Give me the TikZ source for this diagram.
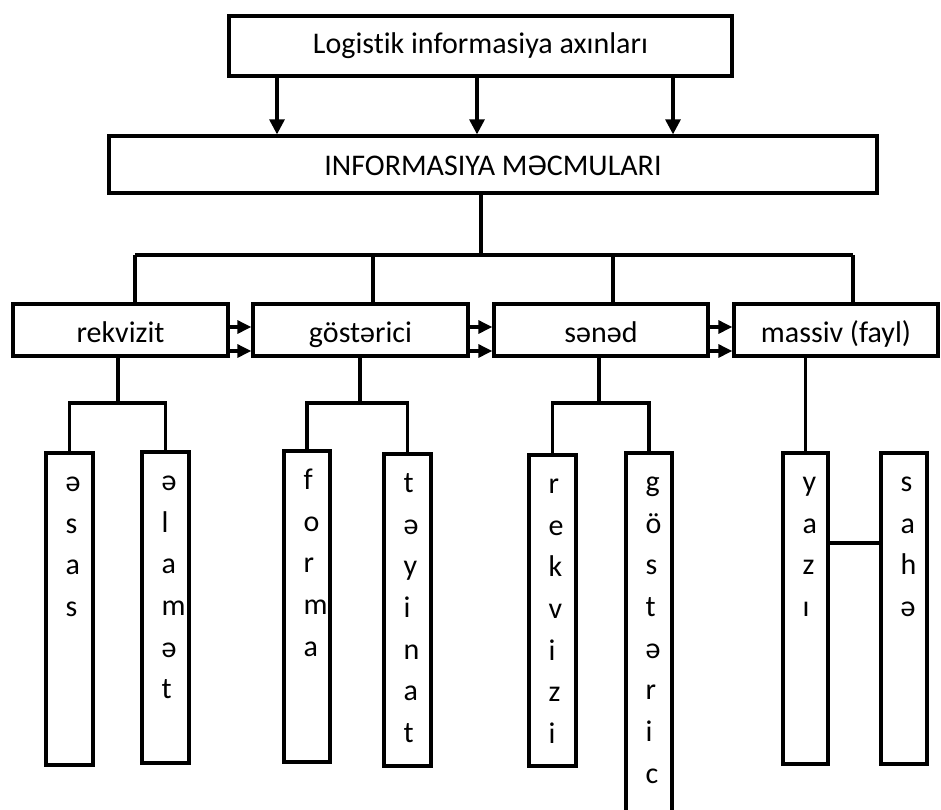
\documentclass[tikz,border=0pt]{standalone}
\usepackage{fontspec}
\setmainfont{Carlito}[Ligatures=NoCommon]
\usetikzlibrary{arrows.meta}

% one letter per line, going down inside a tall box
\newcommand\vword[2]{%
  \foreach \ch [count=\k from 0] in {#2}
    \node[letter] at ([xshift=21pt,yshift=-40pt-41.7pt*\k]#1.north west) {\ch};}

\begin{document}
\begin{tikzpicture}[x=1pt,y=-1pt,
  box/.style={draw, line width=3.3pt, inner sep=0pt, fill=white,
              font=\fontsize{30}{36}\selectfont},
  rowbox/.style={box, minimum height=52pt, text height=26pt, text depth=2pt},
  tallbox/.style={draw, line width=3.3pt, inner sep=0pt, fill=white},
  link/.style={line width=3.1pt},
  down/.style={link, -{Triangle[length=15pt,width=15pt]}},
  side/.style={link, -{Triangle[length=14pt,width=13pt]}},
  letter/.style={anchor=base west, inner sep=0pt, font=\fontsize{30}{36}\selectfont}]
\useasboundingbox (0,0) rectangle (941,809);
\clip (0,0) rectangle (941,809);

% upper levels
\node[box, minimum width=503pt, minimum height=60pt, text height=17pt, text depth=2pt]
  (flows) at (480.5,46) {Logistik informasiya axınları};
\node[box, minimum width=768pt, minimum height=57pt, text height=23pt, text depth=2pt]
  (info) at (493,164.5) {INFORMASIYA MƏCMULARI};

% the four kinds of information sets
\node[rowbox, minimum width=215pt] (rek) at (120.5,330) {rekvizit};
\node[rowbox, minimum width=215pt] (gos) at (360.5,330) {göstərici};
\node[rowbox, minimum width=214pt] (sen) at (601,330)   {sənəd};
\node[rowbox, minimum width=204pt] (mas) at (836,330)   {massiv (fayl)};

% their components
\node[tallbox, minimum width=47pt, minimum height=312pt] (asas)     at (69.5,609)   {};
\node[tallbox, minimum width=47pt, minimum height=311pt] (alamet)   at (165.5,607.5) {};
\node[tallbox, minimum width=46pt, minimum height=311pt] (forma)    at (307,606.5)  {};
\node[tallbox, minimum width=47pt, minimum height=312pt] (teyinat)  at (407.5,610)  {};
\node[tallbox, minimum width=47pt, minimum height=311pt] (rekvizi)  at (552.5,610.5) {};
\node[tallbox, minimum width=46pt, minimum height=377pt] (gosteric) at (649,641.5)  {};
\node[tallbox, minimum width=45pt, minimum height=311pt] (yazi)     at (805.5,608.5) {};
\node[tallbox, minimum width=46pt, minimum height=311pt] (sahe)     at (904,608.5)  {};

\vword{asas}{ə,s,a,s}
\vword{alamet}{ə,l,a,m,ə,t}
\vword{forma}{f,o,r,m,a}
\vword{teyinat}{t,ə,y,i,n,a,t}
\vword{rekvizi}{r,e,k,v,i,z,i}
\vword{gosteric}{g,ö,s,t,ə,r,i,c}
\vword{yazi}{y,a,z,ı}
\vword{sahe}{s,a,h,ə}

% flows into the information sets
\foreach \x in {277,477,673} {
  \coordinate (ax) at (\x,0);
  \draw[down] (flows.south -| ax) -- (info.north -| ax);
}

% branching to the four kinds
\coordinate (hub) at (481,255);
\coordinate (d1) at (135,255);
\coordinate (d2) at (373,255);
\coordinate (d3) at (613,255);
\coordinate (d4) at (853,255);
\draw[link] (info.south -| hub) -- (hub);
\draw[link] (d1) -- (d4);
\foreach \d/\n in {d1/rek,d2/gos,d3/sen,d4/mas}
  \draw[link] (\d) -- (\n.north -| \d);

% paired arrows between neighbouring kinds
\coordinate (s1) at (0,327);
\coordinate (s2) at (0,351);
\foreach \a/\b in {rek/gos,gos/sen,sen/mas} {
  \draw[side] (\a.east |- s1) -- (\b.west |- s1);
  \draw[side] (\a.east |- s2) -- (\b.west |- s2);
}

% branching to the components
\coordinate (j1) at (118,403);
\coordinate (j2) at (360,403);
\coordinate (j3) at (599,403);
\draw[link] (rek.south -| j1) -- (j1);
\draw[link] (gos.south -| j2) -- (j2);
\draw[link] (sen.south -| j3) -- (j3);
\draw[link] (asas.north) |- (j1) -| (alamet.north);
\draw[link] (forma.north) |- (j2) -| (teyinat.north);
\draw[link] (rekvizi.north) |- (j3) -| (gosteric.north);
\draw[link] (mas.south -| yazi.north) -- (yazi.north);

\coordinate (ylink) at (0,543);
\draw[link] (yazi.east |- ylink) -- (sahe.west |- ylink);
\end{tikzpicture}
\end{document}
